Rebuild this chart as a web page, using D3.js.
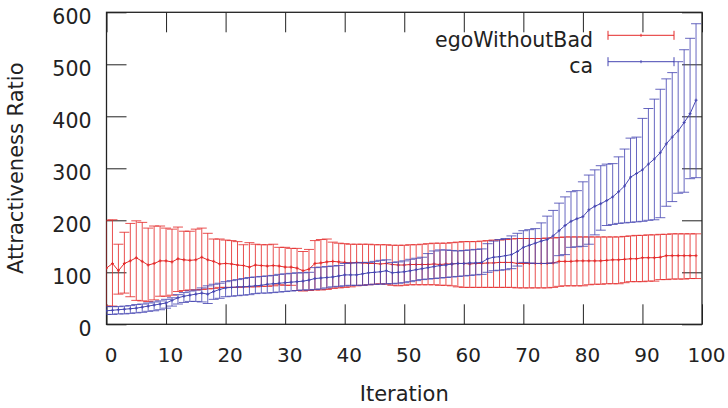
<!DOCTYPE html>
<html>
<head>
    <meta charset="utf-8">
    <title>Attractiveness Ratio</title>
    <style>
        body { margin: 0; background: #fff; }
        text { font-family: "DejaVu Sans", sans-serif; fill: #222; }
        .tick line { stroke: #222; stroke-width: 1px; }
        .axis path.domain { display: none; }
        .border { fill: none; stroke: #222; stroke-width: 1.3px; }
        .bar { stroke-width: 1px; fill: none; stroke-opacity: 0.82; }
        .mean { stroke-width: 1px; fill: none; }
    </style>
    <script src="https://d3js.org/d3.v7.min.js"></script>
</head>
<body>
<svg id="chart" width="728" height="408"></svg>

<script>
        var seriesNames = ["egoWithoutBad", "ca"];
        var seriesColors = ["#e42a2a", "#4646b2"];
        var xTicks = [0, 10, 20, 30, 40, 50, 60, 70, 80, 90, 100];
        var yTicks = [0, 100, 200, 300, 400, 500, 600];

        // egoWithoutBad: mean, lower and upper ends of the error bars, iterations 0..99
        var egoMean = [108,117,103,117,122,128,121,114,117,122, 122,120,126,124,123,124,129,124,121,116,
                       117,116,114,113,110,114,113,112,113,112, 110,110,108,103,106,117,118,120,121,120,
                       119,118,119,118,117,117,116,117,115,114, 114,115,115,115,115,116,115,116,116,117,
                       117,116,117,117,118,118,119,119,119,117, 117,117,117,117,117,118,121,121,121,122,
                       122,122,122,122,123,124,124,125,126,126, 128,128,128,129,132,132,132,132,132,132];
        var egoLow = [35,35,58,60,53,46,45,44,47,54, 54,56,63,65,66,66,67,68,69,71,
                      71,71,71,72,72,72,73,73,74,76, 75,75,65,64,65,66,66,67,69,70,
                      71,72,74,75,76,77,78,77,75,74, 75,76,76,76,76,76,75,75,74,72,
                      71,71,71,71,71,71,71,71,71,70, 70,70,70,70,70,71,73,74,74,74,
                      74,76,77,77,78,78,78,80,82,82, 82,83,83,86,86,87,87,87,88,88];
        var egoHigh = [200,201,154,177,194,199,196,185,189,189, 185,183,187,179,179,183,185,175,164,164,
                       162,161,159,153,157,154,153,153,154,148, 148,146,146,140,144,161,163,164,158,156,
                       155,154,154,154,154,153,153,153,152,152, 152,153,153,154,155,156,156,156,157,158,
                       159,159,159,160,161,162,162,163,164,165, 165,165,165,165,166,166,167,168,168,168,
                       168,168,168,168,168,168,168,169,170,171, 171,172,172,173,173,174,174,174,174,174];

        // ca: mean, lower and upper ends of the error bars, iterations 0..99
        var caMean = [26,27,28,29,30,31,33,35,37,39, 41,46,51,54,56,58,60,58,63,67,
                      70,71,72,72,73,74,75,77,78,79, 80,81,82,83,85,88,89,90,91,93,
                      95,95,95,97,99,100,101,103,99,100, 101,103,105,107,109,111,113,114,116,117,
                      117,118,118,119,126,129,130,132,134,140, 148,152,156,160,163,170,180,190,198,203,
                      207,220,227,232,238,245,255,266,283,290, 297,308,318,330,347,360,372,388,405,431];
        var caLow = [19,19,20,20,21,22,23,25,26,28, 31,35,39,42,44,44,43,40,48,50,
                     53,54,55,56,57,59,60,60,61,62, 63,64,65,66,66,67,68,70,72,73,
                     74,75,75,75,76,77,77,78,78,79, 80,82,84,86,87,88,89,90,91,92,
                     93,94,95,96,100,103,104,105,107,112, 119,118,117,117,117,118,132,134,148,149,
                     150,154,172,181,190,192,194,195,196,197, 198,200,201,205,227,236,252,254,280,282];
        var caHigh = [34,34,34,35,36,38,39,41,43,45, 48,51,57,61,64,66,70,74,77,79,
                      82,84,86,88,90,91,92,93,94,96, 97,98,99,99,100,109,110,111,112,113,
                      117,118,118,119,119,121,123,124,119,120, 122,125,127,129,136,141,143,143,142,141,
                      142,143,144,145,155,160,163,165,170,175, 180,182,184,195,208,219,233,245,255,257,
                      274,287,297,305,308,309,322,337,358,360, 396,415,433,452,472,484,505,528,550,578];

        var svg = d3.select("#chart");
        var plotL = 106.5, plotR = 702, plotT = 12.3, plotB = 324.3;

        var x = d3.scaleLinear().domain([0, 100]).range([plotL, plotR]);
        var y = d3.scaleLinear().domain([0, 600]).range([plotB, plotT]);

        svg.append("clipPath").attr("id", "plotclip")
            .append("rect")
            .attr("x", plotL).attr("y", plotT)
            .attr("width", plotR - plotL).attr("height", plotB - plotT);

        // axes, ticks pointing inward, mirrored on top and right
        var gx = svg.append("g").attr("class", "axis")
            .attr("transform", "translate(0," + plotB + ")")
            .call(d3.axisBottom(x).tickValues(xTicks).tickSizeInner(-20).tickSizeOuter(0));
        gx.selectAll("text")
            .attr("y", 38).attr("dy", null).attr("x", 4)
            .style("font-size", "20px");

        svg.append("g").attr("class", "axis")
            .attr("transform", "translate(0," + plotT + ")")
            .call(d3.axisTop(x).tickValues(xTicks).tickSizeInner(-20).tickSizeOuter(0).tickFormat(""));

        var gy = svg.append("g").attr("class", "axis")
            .attr("transform", "translate(" + plotL + ",0)")
            .call(d3.axisLeft(y).tickValues(yTicks).tickSizeInner(-20).tickSizeOuter(0));
        gy.selectAll("text")
            .attr("x", -15).attr("dy", "0.55em")
            .style("font-size", "20.5px");

        svg.append("g").attr("class", "axis")
            .attr("transform", "translate(" + plotR + ",0)")
            .call(d3.axisRight(y).tickValues(yTicks).tickSizeInner(-20).tickSizeOuter(0).tickFormat(""));

        svg.selectAll(".axis text").attr("fill", "#222").attr("font-family", null);

        svg.append("rect").attr("class", "border")
            .attr("x", plotL).attr("y", plotT)
            .attr("width", plotR - plotL).attr("height", plotB - plotT);

        // axis titles
        svg.append("text")
            .attr("x", (plotL + plotR) / 2).attr("y", 401)
            .attr("text-anchor", "middle")
            .style("font-size", "21px")
            .text("Iteration");

        svg.append("text")
            .attr("transform", "translate(22.5," + ((plotT + plotB) / 2) + ") rotate(-90)")
            .attr("text-anchor", "middle")
            .style("font-size", "21px")
            .text("Attractiveness Ratio");

        var series = [
            { mean: egoMean, low: egoLow, high: egoHigh },
            { mean: caMean, low: caLow, high: caHigh }
        ];

        var plot = svg.append("g").attr("clip-path", "url(#plotclip)");
        var cap = 5;

        series.forEach(function(s, k) {
            var color = seriesColors[k];
            var pts = s.mean.map(function(m, i) {
                return { i: i, mean: m, low: s.low[i], high: s.high[i] };
            });
            var g = plot.append("g");

            g.selectAll(".bar").data(pts).enter().append("path")
                .attr("class", "bar")
                .attr("stroke", color)
                .attr("d", function(d) {
                    var cx = x(d.i), yl = y(d.low), yh = y(d.high);
                    return "M" + cx + "," + yl + "V" + yh +
                        "M" + (cx - cap) + "," + yh + "H" + (cx + cap) +
                        "M" + (cx - cap) + "," + yl + "H" + (cx + cap);
                });

            g.append("path")
                .attr("class", "mean")
                .attr("stroke", color)
                .attr("d", d3.line()
                    .x(function(d) { return x(d.i); })
                    .y(function(d) { return y(d.mean); })(pts));

            g.selectAll(".pt").data(pts).enter().append("path")
                .attr("stroke", color).attr("stroke-width", 1)
                .attr("d", function(d) {
                    var cx = x(d.i), cy = y(d.mean);
                    return "M" + (cx - 1.5) + "," + cy + "H" + (cx + 1.5) +
                        "M" + cx + "," + (cy - 1.5) + "V" + (cy + 1.5);
                });
        });

        // key in the upper right corner
        var key = svg.append("g");
        seriesNames.forEach(function(name, k) {
            var ky = 35.3 + k * 26.4;
            key.append("text")
                .attr("x", 593).attr("y", ky + 11.4)
                .attr("text-anchor", "end")
                .style("font-size", "20.5px")
                .text(name);
            key.append("path")
                .attr("stroke", seriesColors[k]).attr("stroke-width", 1).attr("fill", "none")
                .attr("d", "M608," + ky + "H674" +
                    "M608," + (ky - 4.5) + "V" + (ky + 4.5) +
                    "M674," + (ky - 4.5) + "V" + (ky + 4.5) +
                    "M641," + (ky - 1.5) + "V" + (ky + 1.5));
        });
    </script>
</body>
</html>
